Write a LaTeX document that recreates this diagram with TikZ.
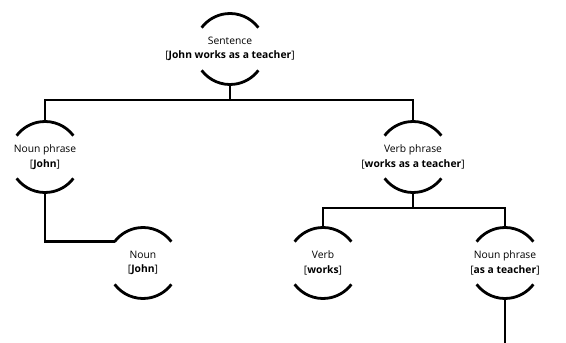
\documentclass[tikz,border=0pt]{standalone}
\usepackage{fontspec}
\setmainfont{Open Sans}
\begin{document}
\begin{tikzpicture}[x=1pt,y=1pt,
  cnode/.style={inner sep=0pt,draw=none,align=center,
    font=\fontsize{10.3}{14.5}\selectfont},
  link/.style={line width=2.8pt},
  arcline/.style={line width=2.8pt}]
\useasboundingbox (0,0) rectangle (566,-343);
\node[cnode] (s)   at (230,-49)  {Sentence\\{[}\textbf{John works as a teacher}{]}};
\node[cnode] (np)  at (45,-157)  {Noun phrase\\{[}\textbf{John}{]}};
\node[cnode] (vp)  at (413,-157) {Verb phrase\\{[}\textbf{works as a teacher}{]}};
\node[cnode] (n)   at (143,-263) {Noun\\{[}\textbf{John}{]}};
\node[cnode] (v)   at (323,-263) {Verb\\{[}\textbf{works}{]}};
\node[cnode] (np2) at (505,-263) {Noun phrase\\{[}\textbf{as a teacher}{]}};
\foreach \k in {s,np,vp,n,v,np2}{
  \draw[arcline] ([shift={(37:35.5)}]\k.center) arc[start angle=37,end angle=143,radius=35.5];
  \draw[arcline] ([shift={(217:35.5)}]\k.center) arc[start angle=217,end angle=323,radius=35.5];
  \coordinate (\k-t) at ([yshift=35.5pt]\k.center);
  \coordinate (\k-b) at ([yshift=-35.5pt]\k.center);
  \coordinate (\k-l) at ([shift={(143:35.5)}]\k.center);
}
\coordinate (j1) at (230,-100);
\coordinate (j2) at (413,-208);
\coordinate (tail) at (505,-343);
\draw[link] (s-b) -- (j1);
\draw[link] (np-t) |- (j1) -| (vp-t);
\draw[link] (np-b) |- (n-l);
\draw[link] (vp-b) -- (j2);
\draw[link] (v-t) |- (j2) -| (np2-t);
\draw[link] (np2-b) -- (tail);
\end{tikzpicture}
\end{document}
